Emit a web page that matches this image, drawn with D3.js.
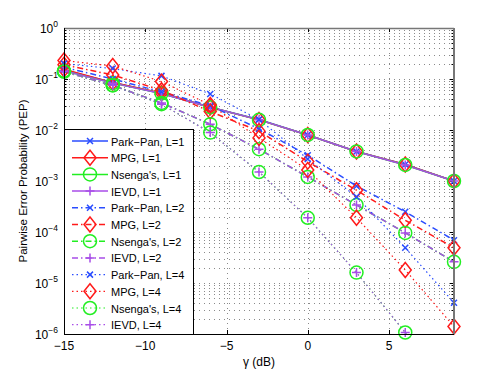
<!DOCTYPE html>
<html>
<head>
<meta charset="utf-8">
<script src="https://cdn.jsdelivr.net/npm/d3@7"></script>
<style>
    body { margin: 0; background: #fff; }
    svg { display: block; font-family: "Liberation Sans", Arial, sans-serif; }
</style>
</head>
<body>
<div id="chart"></div>
<script>
// PEP versus gamma (dB) for four estimators, three values of L

const gammaDb = [-15, -12, -9, -6, -3, 0, 3, 6, 9];

const parkPanL1 = [0.15, 0.085, 0.052, 0.028, 0.016, 0.008, 0.0038, 0.0021, 0.001];
const mpgL1 = [0.155, 0.085, 0.053, 0.028, 0.0158, 0.008, 0.0038, 0.0021, 0.001];
const nsengaL1 = [0.145, 0.083, 0.052, 0.028, 0.0158, 0.008, 0.0038, 0.00206, 0.001];
const ievdL1 = [0.145, 0.083, 0.052, 0.028, 0.0158, 0.008, 0.0038, 0.00206, 0.001];

const parkPanL2 = [0.17, 0.1, 0.056, 0.03, 0.0105, 0.0032, 0.0008, 0.00025, 0.000069];
const mpgL2 = [0.19, 0.12, 0.06, 0.023, 0.0095, 0.0024, 0.00066, 0.00017, 0.000049];
const nsengaL2 = [0.14, 0.075, 0.034, 0.013, 0.0042, 0.0012, 0.00034, 0.000096, 0.000026];
const ievdL2 = [0.14, 0.075, 0.034, 0.013, 0.0042, 0.0012, 0.00034, 0.000096, 0.000026];

const parkPanL4 = [0.2, 0.16, 0.115, 0.051, 0.016, 0.0027, 0.00049, 0.000049, 0.0000041];
const mpgL4 = [0.23, 0.18, 0.089, 0.031, 0.007, 0.00165, 0.00019, 0.000018, 0.0000014];
const nsengaL4 = [0.14, 0.075, 0.032, 0.0089, 0.0015, 0.00019, 0.000016, 0.00000107, 0.00000005];
const ievdL4 = [0.14, 0.075, 0.032, 0.0089, 0.0015, 0.00019, 0.000016, 0.00000107, 0.00000005];

const seriesNames = [
    "Park\u2212Pan, L=1", "MPG, L=1", "Nsenga's, L=1", "IEVD, L=1",
    "Park\u2212Pan, L=2", "MPG, L=2", "Nsenga's, L=2", "IEVD, L=2",
    "Park\u2212Pan, L=4", "MPG, L=4", "Nsenga's, L=4", "IEVD, L=4"
];
const seriesValues = [
    parkPanL1, mpgL1, nsengaL1, ievdL1,
    parkPanL2, mpgL2, nsengaL2, ievdL2,
    parkPanL4, mpgL4, nsengaL4, ievdL4
];

const xTicks = [-15, -10, -5, 0, 5];
const yTickExponents = [0, -1, -2, -3, -4, -5, -6];

const colors = { park: "#2a4dff", mpg: "#ff1a1a", nsenga: "#22ee22", ievd: "#a84de8" };
const kinds = ["park", "mpg", "nsenga", "ievd"];
const dashByL = ["none", "6,3,1.5,3", "1.5,3"];

const width = 501;
const height = 377;
const margin = { top: 28, right: 47, bottom: 43, left: 64 };
const innerWidth = width - margin.left - margin.right;
const innerHeight = height - margin.top - margin.bottom;

const svg = d3.select("#chart").append("svg")
    .attr("width", width)
    .attr("height", height);

const x = d3.scaleLinear().domain([-15, 9]).range([0, innerWidth]);
const y = d3.scaleLog().domain([1e-6, 1]).range([innerHeight, 0]);

const root = svg.append("g")
    .attr("transform", `translate(${margin.left},${margin.top})`);

svg.append("defs").append("clipPath")
    .attr("id", "plot-clip")
    .append("rect")
    .attr("width", innerWidth)
    .attr("height", innerHeight);

// grid: horizontal at every decade and minor tick, vertical at major x ticks
const yGridValues = [];
for (let e = -6; e < 0; e++) {
    for (let m = 1; m < 10; m++) yGridValues.push(m * Math.pow(10, e));
}
const gridGroup = root.append("g").attr("class", "grid");
gridGroup.selectAll("line.hgrid")
    .data(yGridValues.filter(v => v > 1e-6))
    .join("line")
    .attr("class", "hgrid")
    .attr("x1", 0).attr("x2", innerWidth)
    .attr("y1", d => Math.round(y(d)) + 0.5)
    .attr("y2", d => Math.round(y(d)) + 0.5)
    .attr("stroke", "#8a8a8a")
    .attr("stroke-width", 1)
    .attr("stroke-dasharray", "1,4");

gridGroup.selectAll("line.vgrid")
    .data(xTicks.filter(d => d > -15))
    .join("line")
    .attr("class", "vgrid")
    .attr("x1", d => Math.round(x(d)) + 0.5)
    .attr("x2", d => Math.round(x(d)) + 0.5)
    .attr("y1", 0).attr("y2", innerHeight)
    .attr("stroke", "#8a8a8a")
    .attr("stroke-width", 1)
    .attr("stroke-dasharray", "1,4");

// ticks (inside, MATLAB style)
const tickGroup = root.append("g").attr("class", "ticks").attr("stroke", "#000");
xTicks.forEach(t => {
    const px = Math.round(x(t)) + 0.5;
    tickGroup.append("line").attr("x1", px).attr("x2", px).attr("y1", innerHeight).attr("y2", innerHeight - 4);
    tickGroup.append("line").attr("x1", px).attr("x2", px).attr("y1", 0).attr("y2", 4);
});
yGridValues.concat([1]).forEach(v => {
    const py = Math.round(y(v)) + 0.5;
    const major = Math.abs(Math.log10(v) - Math.round(Math.log10(v))) < 1e-9;
    const len = major ? 4 : 2.5;
    tickGroup.append("line").attr("x1", 0).attr("x2", len).attr("y1", py).attr("y2", py);
    tickGroup.append("line").attr("x1", innerWidth).attr("x2", innerWidth - len).attr("y1", py).attr("y2", py);
});

// series
const lineGen = d3.line()
    .x((d, i) => x(gammaDb[i]))
    .y(d => y(d));

const seriesLayer = root.append("g").attr("clip-path", "url(#plot-clip)");
const markerLayer = root.append("g");

function drawMarker(sel, kind, color) {
    if (kind === "park") {
        sel.append("path").attr("d", "M-3,-3L3,3M-3,3L3,-3")
            .attr("stroke", color).attr("stroke-width", 1.5).attr("fill", "none");
    } else if (kind === "mpg") {
        sel.append("path").attr("d", "M0,-7.5L6,0L0,7.5L-6,0Z")
            .attr("stroke", color).attr("stroke-width", 1.5).attr("fill", "none");
    } else if (kind === "nsenga") {
        sel.append("circle").attr("r", 6.5)
            .attr("stroke", color).attr("stroke-width", 1.5).attr("fill", "none");
    } else {
        sel.append("path").attr("d", "M-4.5,0L4.5,0M0,-4.5L0,4.5")
            .attr("stroke", color).attr("stroke-width", 1.5).attr("fill", "none");
    }
}

seriesValues.forEach((values, s) => {
    const kind = kinds[s % 4];
    const color = colors[kind];
    const lIndex = Math.floor(s / 4);

    seriesLayer.append("path")
        .datum(values)
        .attr("d", lineGen)
        .attr("fill", "none")
        .attr("stroke", color)
        .attr("stroke-width", lIndex === 2 ? 1.2 : 1.5)
        .attr("stroke-dasharray", dashByL[lIndex]);

    values.forEach((v, i) => {
        if (v < 1e-6) return;
        const g = markerLayer.append("g")
            .attr("transform", `translate(${x(gammaDb[i])},${y(v)})`);
        drawMarker(g, kind, color);
    });
});

// axes frame
root.append("line").attr("x1", 0).attr("x2", innerWidth).attr("y1", 0.5).attr("y2", 0.5)
    .attr("stroke", "#777").attr("stroke-width", 1.5);
root.append("line").attr("x1", innerWidth).attr("x2", innerWidth).attr("y1", 0).attr("y2", innerHeight)
    .attr("stroke", "#777").attr("stroke-width", 2);
root.append("line").attr("x1", 0.5).attr("x2", 0.5).attr("y1", 0).attr("y2", innerHeight + 0.5)
    .attr("stroke", "#000");
root.append("line").attr("x1", 0).attr("x2", innerWidth).attr("y1", innerHeight + 0.5).attr("y2", innerHeight + 0.5)
    .attr("stroke", "#000");

// tick labels
root.append("g").selectAll("text")
    .data(xTicks)
    .join("text")
    .attr("x", d => x(d))
    .attr("y", innerHeight + 16)
    .attr("text-anchor", "middle")
    .attr("font-size", 12)
    .text(d => d < 0 ? "\u2212" + Math.abs(d) : d);

const yLabels = root.append("g");
yTickExponents.forEach(e => {
    const t = yLabels.append("text")
        .attr("x", -6)
        .attr("y", y(Math.pow(10, e)) + 5)
        .attr("text-anchor", "end")
        .attr("font-size", 12);
    t.append("tspan").text("10");
    t.append("tspan")
        .attr("dy", -6)
        .attr("font-size", 8.5)
        .text(e < 0 ? "\u2212" + Math.abs(e) : e);
});

// axis titles
root.append("text")
    .attr("x", innerWidth / 2)
    .attr("y", innerHeight + 32)
    .attr("text-anchor", "middle")
    .attr("font-size", 12)
    .text("\u03b3 (dB)");

root.append("text")
    .attr("transform", `translate(-37, ${innerHeight / 2}) rotate(-90)`)
    .attr("text-anchor", "middle")
    .attr("font-size", 11.5)
    .text("Pairwise Error Probability (PEP)");

// legend in lower-left corner
const legendWidth = 129;
const legendRowH = 16.7;
const legendHeight = 205;
const legend = root.append("g")
    .attr("transform", `translate(0, ${innerHeight - legendHeight})`);

legend.append("rect")
    .attr("x", 0.5).attr("y", 0.5)
    .attr("width", legendWidth).attr("height", legendHeight)
    .attr("fill", "#fff")
    .attr("stroke", "#000");

seriesNames.forEach((name, s) => {
    const kind = kinds[s % 4];
    const color = colors[kind];
    const lIndex = Math.floor(s / 4);
    const rowY = 12 + s * legendRowH;

    legend.append("line")
        .attr("x1", 8).attr("x2", 44)
        .attr("y1", rowY).attr("y2", rowY)
        .attr("stroke", color)
        .attr("stroke-width", lIndex === 2 ? 1.2 : 1.5)
        .attr("stroke-dasharray", dashByL[lIndex]);

    drawMarker(legend.append("g").attr("transform", `translate(26,${rowY})`), kind, color);

    legend.append("text")
        .attr("x", 47)
        .attr("y", rowY + 4.5)
        .attr("font-size", 11)
        .text(name);
});
</script>
</body>
</html>
